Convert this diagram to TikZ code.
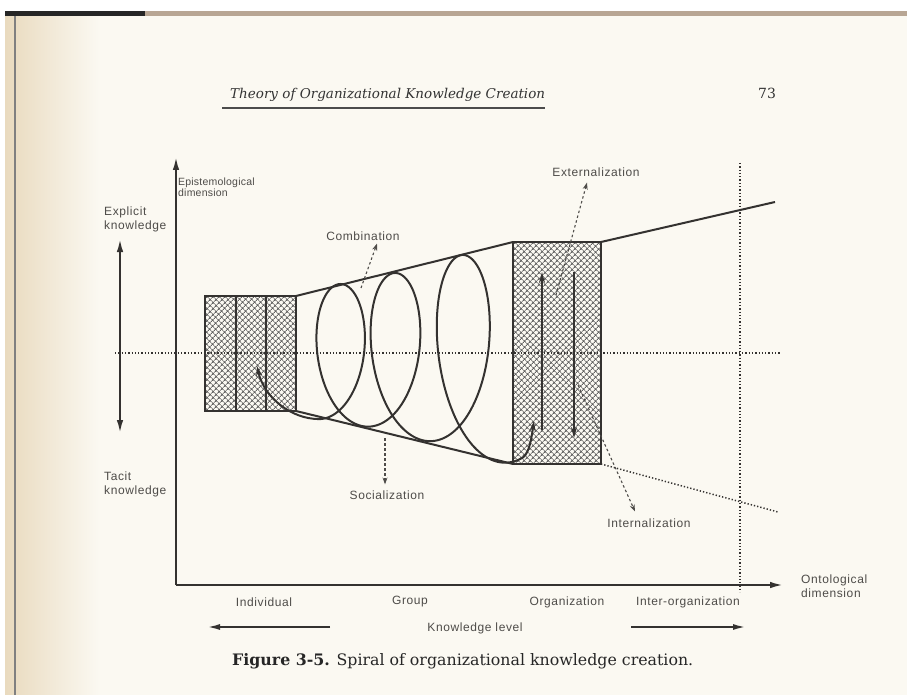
\documentclass[tikz,border=0pt]{standalone}
\usepackage{fontspec}
\usetikzlibrary{arrows.meta,patterns.meta}
\newfontfamily\labfont[LetterSpace=5]{Liberation Sans}
\newfontfamily\smlabfont[LetterSpace=2]{Liberation Sans}
\newfontfamily\capfont{DejaVu Serif}
\definecolor{paper}{RGB}{251,249,242}
\definecolor{tan}{RGB}{233,218,190}
\definecolor{ink}{RGB}{52,50,48}
\definecolor{labc}{RGB}{78,76,73}
\begin{document}
\begin{tikzpicture}[x=1pt,y=-1pt,
  declare function={spS(\t)=(\t-180)/360;
    spX(\t)=341+48.5*spS(\t)+6.5*spS(\t)^2;
    spA(\t)=35.5+3*spS(\t)+0.5*spS(\t)^2;
    spH(\t)=69+7.5*spS(\t)+3.5*spS(\t)^2;},
  lab/.style={font=\labfont\fontsize{12}{14}\selectfont, text=labc, inner sep=0pt},
  labl/.style={lab, align=left, anchor=west},
  axis/.style={draw=ink, line width=2pt},
  axtip/.style={-{Latex[length=13pt,width=6.5pt]}},
  dots/.style={draw=ink, line width=1.5pt, dash pattern=on 1.3pt off 2pt},
  hatchbox/.style={draw=ink, line width=1.8pt, fill=white,
     pattern={Hatch[angle=45,distance=4pt,line width=1pt]}, pattern color=gray!75!black},
  cone/.style={draw=ink, line width=2pt},
  spiral/.style={draw=ink, line width=2pt},
  sptip/.style={{Stealth[length=10pt,width=6pt]}-{Stealth[length=10pt,width=6pt]}},
  vtip/.style={-{Stealth[length=11pt,width=6pt]}},
  labarrow/.style={draw=labc, line width=1.1pt, dash pattern=on 2.5pt off 2.5pt, -{Stealth[length=7pt,width=5pt]}},
  levarrow/.style={draw=ink, line width=2pt, -{Latex[length=13pt,width=6pt]}}
]
% background / page
\useasboundingbox (0,0) rectangle (907,695);
\fill[white] (0,0) rectangle (907,695);
\fill[paper] (5,16) rectangle (907,695);
\shade[left color=tan, right color=paper] (5,16) rectangle (100,695);
\fill[gray!60!brown!70] (5,11) rectangle (907,16);
\fill[black!85] (5,11) rectangle (145,16);
\draw[black!50, line width=1.2pt] (15,16) -- (15,695);

% header
\node[font=\capfont\itshape\fontsize{13.5}{16}\selectfont, text=black!80, anchor=base west, inner sep=0pt] (hdr) at (230,99) {Theory of Organizational Knowledge Creation};
\draw[black!70, line width=1.6pt] (hdr.base west) ++(-8,9) coordinate (ul1) -- (hdr.base east |- ul1);
\node[font=\capfont\fontsize{14}{17}\selectfont, text=black!80, anchor=base, inner sep=0pt] (pg) at (767,99) {73};

% dotted reference lines
\coordinate (hd1) at (115,353);
\coordinate (hd2) at (780,353);
\coordinate (vd1) at (740,163);
\coordinate (vd2) at (740,592);

% hatched boxes
\draw[hatchbox] (205,296) rectangle (296,411);
\node[inner sep=0pt] (indbox) at (250.5,353.5) {};
\draw[ink, line width=1.8pt] (236,296) -- (236,411) (266,296) -- (266,411);
\draw[hatchbox] (513,242) rectangle (601,464);
\node[inner sep=0pt] (orgbox) at (557,353) {};

\draw[dots] (hd1) -- (hd2);
\draw[dots] (vd1) -- (vd2);

% cone
\coordinate (c1) at (296,296); \coordinate (c2) at (513,242);
\coordinate (c3) at (296,411); \coordinate (c4) at (513,464);
\coordinate (c5) at (601,242); \coordinate (c6) at (775,202);
\coordinate (c7) at (601,464); \coordinate (c8) at (778,512);
\draw[cone] (c1) -- (c2);
\draw[cone] (c3) -- (c4);
\draw[cone] (c5) -- (c6);
\draw[dots] (c7) -- (c8);

% spiral
\coordinate (sp0) at (257,366);
\coordinate (sp1) at (534,421);
\draw[spiral, sptip] (sp0) .. controls (264,398) and (292,419) .. (318.4,419)
  --plot[domain=0:1100, samples=450, variable=\t, smooth]
  ({spX(\t)+spA(\t)*sin(\t)}, {353+spH(\t)*cos(\t)})
  .. controls (530,452) and (532,434) .. (sp1);

% arrows inside organization box
\coordinate (u1) at (542,430); \coordinate (u2) at (542,272);
\coordinate (d1) at (574,272); \coordinate (d2) at (574,438);
\draw[draw=ink, line width=2pt, vtip] (u1) -- (u2);
\draw[draw=ink, line width=2pt, vtip] (d1) -- (d2);

% axes
\coordinate (O) at (176,585);
\coordinate (ytop) at (176,157);
\coordinate (xend) at (783,585);
\draw[axis, axtip] (O) -- (ytop);
\draw[axis, axtip] (O) -- (xend);
\coordinate (ek) at (120,239);
\coordinate (tk) at (120,433);
\draw[axis, {Latex[length=13pt,width=6.5pt]}-{Latex[length=13pt,width=6.5pt]}] (ek) -- (tk);

% axis labels
\node[labl, font=\smlabfont\fontsize{10.5}{11.5}\selectfont] (epi) at (178,187) {Epistemological\\dimension};
\node[labl] (expl) at (104,219) {Explicit\\knowledge};
\node[labl] (tac) at (104,484) {Tacit\\knowledge};
\node[labl] (onto) at (801,586) {Ontological\\dimension};

% process labels
\node[lab] (comb) at (363,236) {Combination};
\node[lab] (ext) at (596,172) {Externalization};
\node[lab] (soc) at (387,495) {Socialization};
\node[lab] (int) at (649,523) {Internalization};
\coordinate (cb0) at (361,288);
\coordinate (ex0) at (556,295);
\coordinate (so0) at (385,438);
\coordinate (in0) at (578,385);
\draw[labarrow] (cb0) -- ([xshift=14pt,yshift=-3pt]comb.south);
\draw[labarrow] (ex0) -- ([xshift=-9pt,yshift=-6pt]ext.south);
\draw[labarrow] (so0) -- ([xshift=-2pt,yshift=6pt]soc.north);
\draw[labarrow] (in0) -- ([xshift=-14pt,yshift=7pt]int.north);

% knowledge levels
\node[lab] (indiv) at (264,602) {Individual};
\node[lab] (grp) at (410,602) {Group};
\node[lab] (org) at (567,602) {Organization};
\node[lab] (inter) at (688,602) {Inter-organization};
\node[lab] (kl) at (475,628) {Knowledge level};
\coordinate (la1) at (330,627); \coordinate (la2) at (207,627);
\coordinate (ra1) at (631,627); \coordinate (ra2) at (746,627);
\draw[levarrow] (la1) -- (la2);
\draw[levarrow] (ra1) -- (ra2);

% caption
\node[font=\capfont\fontsize{15.8}{19}\selectfont, text=black!85, anchor=base west, inner sep=0pt] (cap) at (232,665) {\textbf{Figure 3-5.} Spiral of organizational knowledge creation.};
\end{tikzpicture}
\end{document}
